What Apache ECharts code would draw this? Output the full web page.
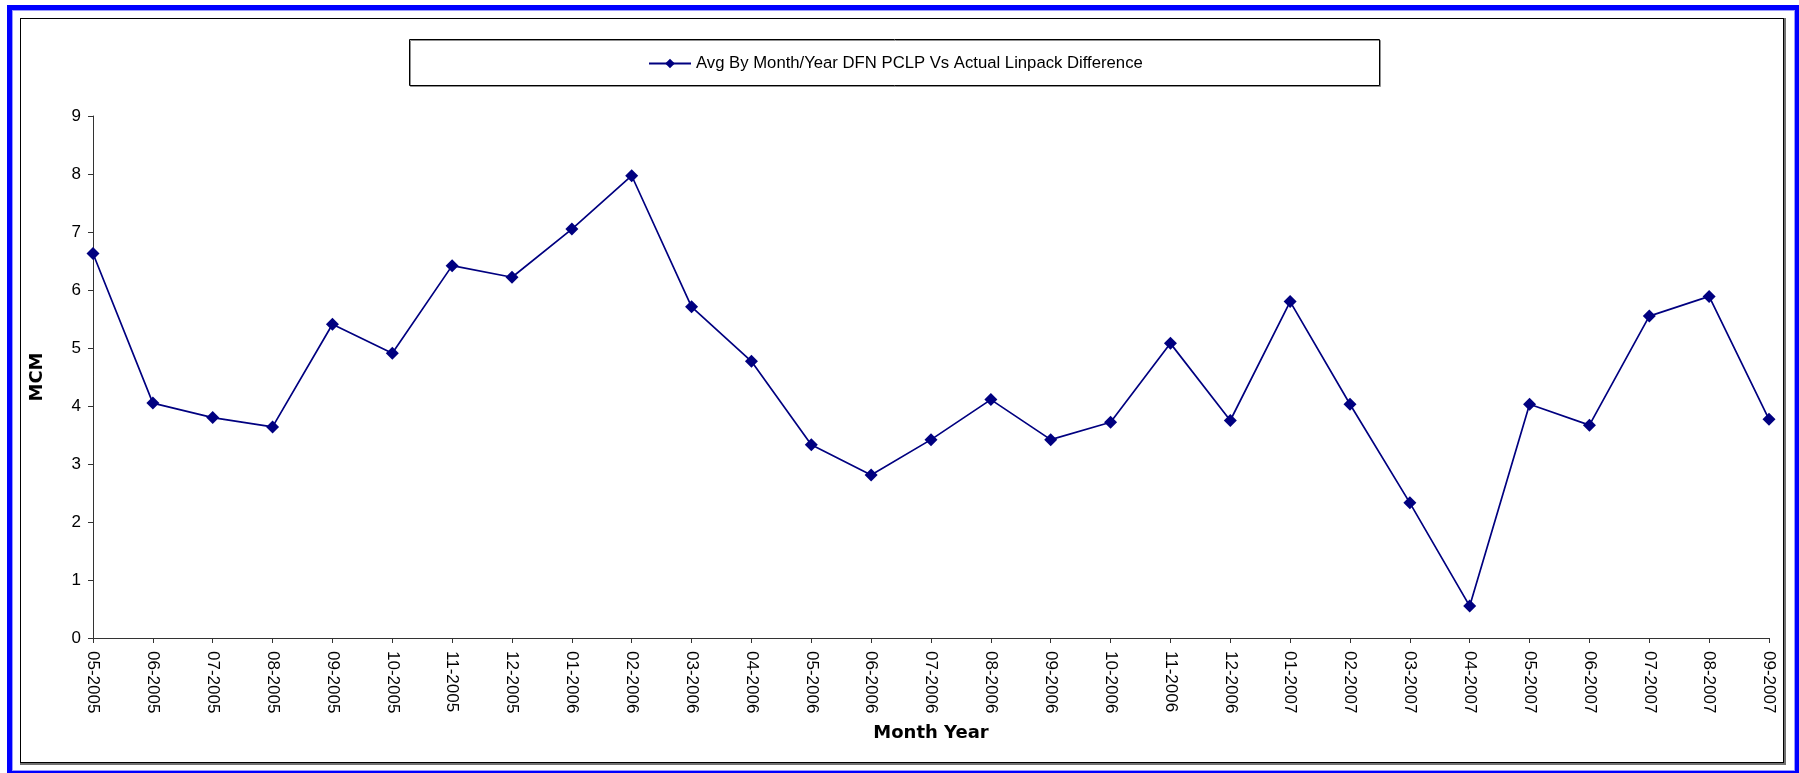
<!DOCTYPE html>
<html>
<head>
<meta charset="utf-8">
<script src="https://cdn.jsdelivr.net/npm/echarts@6/dist/echarts.min.js"></script>
<style>
  html, body { margin: 0; padding: 0; background: #fff; width: 1799px; height: 773px; overflow: hidden; }
  #frame { position: absolute; left: 7px; top: 5px; width: 1793px; height: 771px; box-sizing: border-box;
           border: 5px solid #0000ff; box-shadow: inset 0 0 0 1px #9a9aff; }
  #inner { position: absolute; left: 20px; top: 18px; width: 1764px; height: 745px; box-sizing: border-box;
           border: 1px solid #000; box-shadow: 1px 1px 0 1px #707070; }
  #chart { position: absolute; left: 0; top: 0; width: 1799px; height: 773px; }
</style>
</head>
<body>
<div id="frame"></div>
<div id="inner"></div>
<div id="chart"></div>
<script>
const categories = ["05-2005","06-2005","07-2005","08-2005","09-2005","10-2005","11-2005","12-2005",
  "01-2006","02-2006","03-2006","04-2006","05-2006","06-2006","07-2006","08-2006","09-2006","10-2006","11-2006","12-2006",
  "01-2007","02-2007","03-2007","04-2007","05-2007","06-2007","07-2007","08-2007","09-2007"];
const values = [6.63, 4.05, 3.80, 3.64, 5.41, 4.91, 6.42, 6.22,
  7.05, 7.97, 5.71, 4.77, 3.33, 2.81, 3.42, 4.11, 3.42, 3.72, 5.08, 3.75,
  5.80, 4.03, 2.33, 0.55, 4.03, 3.67, 5.55, 5.89, 3.77];
const seriesName = "Avg By Month/Year DFN PCLP Vs Actual Linpack Difference";
const xAxisName = "Month Year";
const yAxisName = "MCM";

const chart = echarts.init(document.getElementById('chart'));
const axisColor = '#333';
chart.setOption({
  animation: false,
  backgroundColor: 'transparent',
  textStyle: { fontFamily: 'Liberation Sans, Arial, sans-serif' },
  graphic: [{
    type: 'rect', left: 409, top: 39, z: -1,
    shape: { width: 970, height: 46 },
    style: { fill: '#fff', stroke: '#000', lineWidth: 1, shadowColor: '#909090', shadowOffsetX: 1, shadowOffsetY: 1, shadowBlur: 0 }
  }],
  legend: {
    left: 648, top: 55,
    padding: 0,
    itemWidth: 42, itemHeight: 12, itemGap: 6,
    textStyle: { fontSize: 16.7, color: '#000', fontFamily: 'Liberation Sans, Arial, sans-serif' },
    data: [seriesName]
  },
  grid: { left: 93, right: 30, top: 116, bottom: 135, containLabel: false },
  xAxis: {
    type: 'category',
    data: categories,
    boundaryGap: false,
    name: xAxisName,
    nameLocation: 'middle',
    nameGap: 86,
    nameTextStyle: { fontSize: 18, fontWeight: 'bold', color: '#000', fontFamily: 'DejaVu Sans, Verdana, sans-serif' },
    axisLine: { lineStyle: { color: axisColor, width: 1 } },
    axisTick: { show: true, length: 5, interval: 0, lineStyle: { color: axisColor } },
    axisLabel: { rotate: -90, interval: 0, fontSize: 17, margin: 13, color: '#000' },
    splitLine: { show: false }
  },
  yAxis: {
    type: 'value',
    min: 0, max: 9, interval: 1,
    name: yAxisName,
    nameLocation: 'middle',
    nameGap: 47,
    nameRotate: 90,
    nameTextStyle: { fontSize: 18, fontWeight: 'bold', color: '#000', fontFamily: 'DejaVu Sans, Verdana, sans-serif' },
    axisLine: { show: true, lineStyle: { color: axisColor, width: 1 } },
    axisTick: { show: true, length: 5, lineStyle: { color: axisColor } },
    axisLabel: { fontSize: 17, margin: 12, color: '#000' },
    splitLine: { show: false }
  },
  series: [{
    name: seriesName,
    type: 'line',
    data: values,
    symbol: 'diamond',
    symbolSize: 13,
    showAllSymbol: true,
    lineStyle: { color: '#000080', width: 1.7 },
    itemStyle: { color: '#000080' }
  }]
});
</script>
</body>
</html>
